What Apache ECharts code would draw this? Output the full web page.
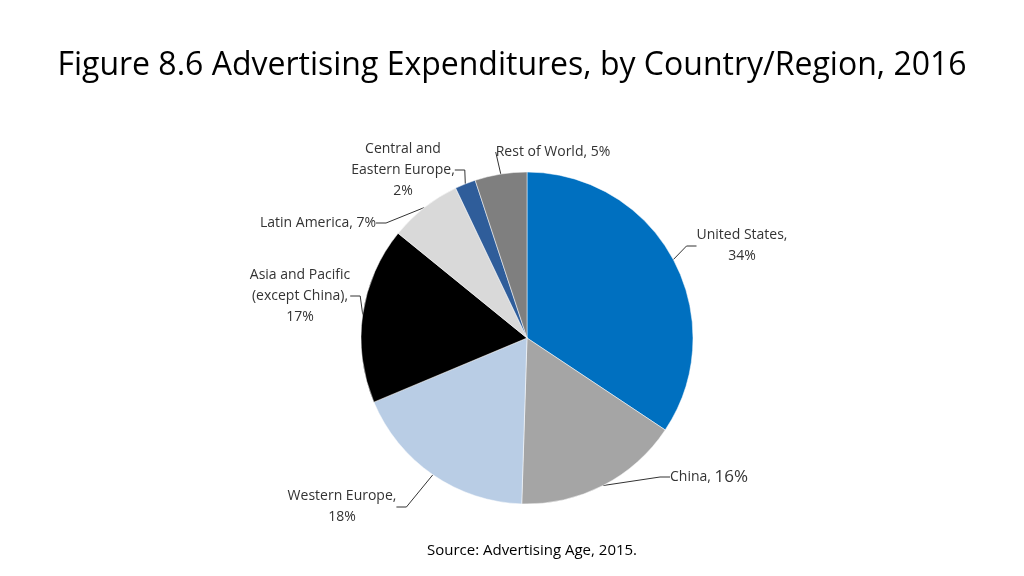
<!DOCTYPE html>
<html>
<head>
<meta charset="utf-8">
<script src="https://cdn.jsdelivr.net/npm/echarts@6/dist/echarts.min.js"></script>
<style>
  html, body { margin: 0; padding: 0; background: #fff; }
  #chart { width: 1024px; height: 576px; }
</style>
</head>
<body>
<div id="chart"></div>
<script>
// 各地区广告支出占比（顺时针，从12点方向开始）
const regions = ['United States', 'China', 'Western Europe', 'Asia and Pacific', 'Latin America', 'Central and Eastern Europe', 'Rest of World'];
const shares = [34, 16, 18, 17, 7, 2, 5];
const labelTexts = [
  'United States,\n34%',
  'China, {big|16%}',
  'Western Europe,\n18%',
  'Asia and Pacific\n(except China),\n17%',
  'Latin America, 7%',
  'Central and\nEastern Europe,\n2%',
  'Rest of World, 5%'
];
const colors = ['#0070C0', '#A5A5A5', '#B9CDE5', '#000000', '#D9D9D9', '#2F5D9A', '#7F7F7F'];

// 标签摆放位置（参照原图）
const labelPos = [
  { x: 742, y: 246, align: 'center' },
  { x: 670, y: 477, align: 'left' },
  { x: 342, y: 507, align: 'center' },
  { x: 300, y: 296, align: 'center' },
  { x: 318, y: 223, align: 'center' },
  { x: 403, y: 170, align: 'center' },
  { x: 553, y: 152, align: 'center' }
];

const chart = echarts.init(document.getElementById('chart'));
chart.setOption({
  animation: false,
  title: [{
    text: 'Figure 8.6 Advertising Expenditures, by Country/Region, 2016',
    left: 'center',
    top: 45,
    textStyle: { fontFamily: 'Open Sans', fontSize: 32, fontWeight: 'normal', color: '#000' }
  }, {
    text: 'Source: Advertising Age, 2015.',
    left: 527,
    top: 538,
    textAlign: 'center',
    textStyle: { fontFamily: 'Open Sans', fontSize: 15, fontWeight: 'normal', color: '#000' }
  }],
  series: [{
    type: 'pie',
    center: [527, 338],
    radius: 166,
    startAngle: 90,
    clockwise: true,
    silent: true,
    itemStyle: { borderColor: '#fff', borderWidth: 0.5 },
    label: {
      show: true,
      position: 'outside',
      formatter: p => labelTexts[p.dataIndex],
      fontFamily: 'Open Sans',
      fontSize: 14,
      lineHeight: 21,
      color: '#333',
      rich: { big: { fontFamily: 'Open Sans', fontSize: 17, color: '#333' } }
    },
    labelLine: { show: true, length: 8, length2: 10, lineStyle: { color: '#333', width: 1 } },
    labelLayout: p => {
      const pos = labelPos[p.dataIndex];
      return { x: pos.x, y: pos.y, align: pos.align, verticalAlign: 'middle' };
    },
    data: regions.map((name, i) => ({ name, value: shares[i], itemStyle: { color: colors[i] } }))
  }]
});
</script>
</body>
</html>
